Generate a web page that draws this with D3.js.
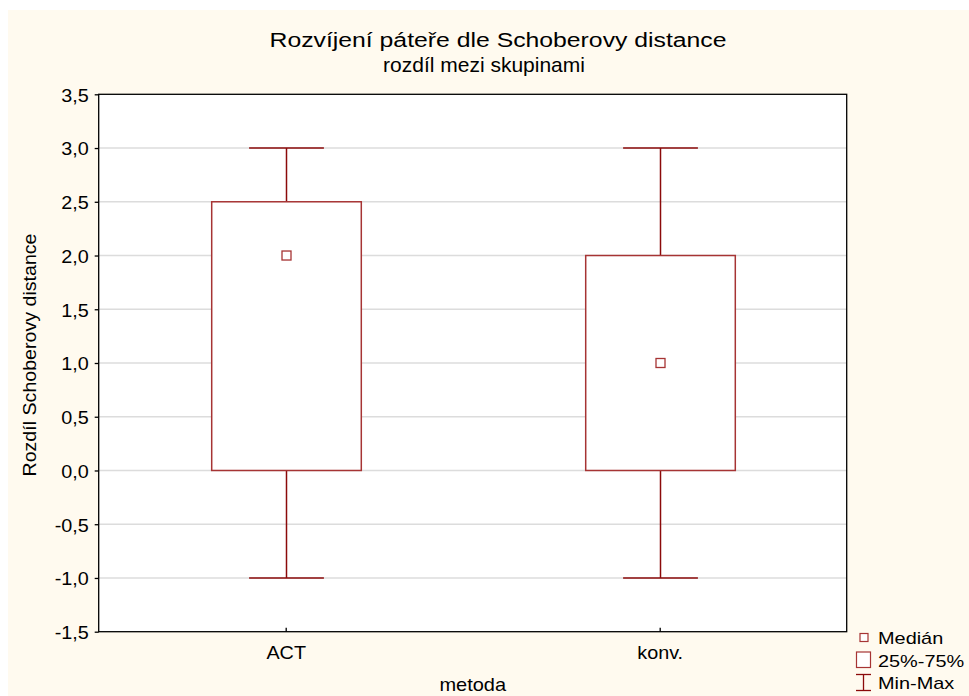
<!DOCTYPE html>
<html><head><meta charset="utf-8">
<script src="https://cdn.jsdelivr.net/npm/d3@7"></script>
<style>body{margin:0;background:#fff}svg{display:block}text{font-family:"Liberation Sans",Arial,sans-serif;fill:#000}</style>
</head><body><svg id="c" width="969" height="696"></svg>
<script>
const categories = ["ACT", "konv."];
const medians = [2.0, 1.0];
const q1 = [0.0, 0.0];
const q3 = [2.5, 2.0];
const mins = [-1.0, -1.0];
const maxs = [3.0, 3.0];
const yTicks = [-1.5, -1.0, -0.5, 0.0, 0.5, 1.0, 1.5, 2.0, 2.5, 3.0, 3.5];

const W = 969, H = 696;
const m = {left: 98.7, right: 846.7, top: 94.3, bottom: 631.7};
const svg = d3.select("#c");
svg.append("rect").attr("x", 8).attr("y", 10).attr("width", W - 8).attr("height", H - 10).attr("fill", "#FFFAEF");

const y = d3.scaleLinear().domain([-1.5, 3.5]).range([m.bottom, m.top]);
const x = d3.scalePoint().domain(categories).range([m.left, m.right]).padding(0.5);
const pw = m.right - m.left;
const fmt = d => d3.format(".1f")(d).replace(".", ",").replace("−", "-");

svg.append("rect").attr("x", m.left).attr("y", m.top).attr("width", pw).attr("height", m.bottom - m.top).attr("fill", "#fff");

// grid
svg.append("g").selectAll("line").data(yTicks.slice(1, -1)).join("line")
  .attr("x1", m.left).attr("x2", m.right).attr("y1", d => y(d)).attr("y2", d => y(d))
  .attr("stroke", "#dcdcdc").attr("stroke-width", 1.5);

// y axis
const ya = svg.append("g").attr("transform", `translate(${m.left},0)`)
  .call(d3.axisLeft(y).tickValues(yTicks).tickFormat(fmt).tickSize(4).tickPadding(5));
ya.select(".domain").remove();
ya.selectAll(".tick line").attr("stroke", "#000").attr("stroke-width", 1.3);
ya.selectAll(".tick text").attr("font-size", 18).attr("font-family", "Liberation Sans, Arial, sans-serif")
  .attr("dy", "0.38em").attr("transform", "scale(1.1,1)");

// x axis
const xa = svg.append("g").attr("transform", `translate(0,${m.bottom})`)
  .call(d3.axisBottom(x).tickSize(-4).tickPadding(15));
xa.select(".domain").remove();
xa.selectAll(".tick line").attr("stroke", "#000").attr("stroke-width", 1.3);
xa.selectAll(".tick text").attr("font-size", 18).attr("font-family", "Liberation Sans, Arial, sans-serif")
  .attr("transform", "scale(1.1,1)");

const col = "#8B0A0A";
const boxW = pw * 0.2, capW = pw * 0.1;
const g = svg.append("g");
categories.forEach((c, i) => {
  const cx = Math.round(x(c)) + 0.5;
  g.append("line").attr("x1", cx).attr("x2", cx).attr("y1", y(maxs[i])).attr("y2", y(q3[i])).attr("stroke", col).attr("stroke-width", 1.5);
  g.append("line").attr("x1", cx).attr("x2", cx).attr("y1", y(q1[i])).attr("y2", y(mins[i])).attr("stroke", col).attr("stroke-width", 1.5);
  g.append("line").attr("x1", cx - capW / 2).attr("x2", cx + capW / 2).attr("y1", y(maxs[i])).attr("y2", y(maxs[i])).attr("stroke", col).attr("stroke-width", 1.5);
  g.append("line").attr("x1", cx - capW / 2).attr("x2", cx + capW / 2).attr("y1", y(mins[i])).attr("y2", y(mins[i])).attr("stroke", col).attr("stroke-width", 1.5);
  g.append("rect").attr("x", cx - boxW / 2).attr("y", y(q3[i])).attr("width", boxW).attr("height", y(q1[i]) - y(q3[i]))
    .attr("fill", "#fff").attr("stroke", "#A63434").attr("stroke-width", 1.5);
  g.append("rect").attr("x", cx - 4.5).attr("y", y(medians[i]) - 4.5).attr("width", 9).attr("height", 9)
    .attr("fill", "#fff").attr("stroke", "#A63434").attr("stroke-width", 1.3);
});

// frame
svg.append("rect").attr("x", m.left).attr("y", m.top).attr("width", pw).attr("height", m.bottom - m.top)
  .attr("fill", "none").attr("stroke", "#000").attr("stroke-width", 1.3);

function label(px, py, txt, size, sx, anchor, rot) {
  return svg.append("text")
    .attr("transform", `translate(${px},${py})` + (rot ? ` rotate(${rot})` : "") + ` scale(${sx},1)`)
    .attr("text-anchor", anchor).attr("font-size", size).text(txt);
}

// titles
label(498, 47.3, "Rozvíjení páteře dle Schoberovy distance", 21, 1.18, "middle");
label(484, 72.3, "rozdíl mezi skupinami", 21, 1.0, "middle");
label((m.left + m.right) / 2, 690.5, "metoda", 18, 1.11, "middle");
label(35.5, 355, "Rozdíl Schoberovy distance", 18, 1.09, "middle", -90);

// legend
const lg = svg.append("g");
lg.append("rect").attr("x", 860).attr("y", 633.5).attr("width", 8).attr("height", 8).attr("fill", "#fff").attr("stroke", "#A63434").attr("stroke-width", 1.2);
lg.append("rect").attr("x", 856.5).attr("y", 652).attr("width", 14).attr("height", 15.5).attr("fill", "#fff").attr("stroke", "#A63434").attr("stroke-width", 1.2);
lg.append("line").attr("x1", 856).attr("x2", 871).attr("y1", 674.5).attr("y2", 674.5).attr("stroke", col).attr("stroke-width", 1.3);
lg.append("line").attr("x1", 856).attr("x2", 871).attr("y1", 690.5).attr("y2", 690.5).attr("stroke", col).attr("stroke-width", 1.3);
lg.append("line").attr("x1", 863.5).attr("x2", 863.5).attr("y1", 674.5).attr("y2", 690.5).attr("stroke", col).attr("stroke-width", 1.3);
label(878, 644, "Medián", 17, 1.17, "start");
label(878, 666.5, "25%-75%", 17, 1.17, "start");
label(878, 689, "Min-Max", 17, 1.17, "start");
</script></body></html>
